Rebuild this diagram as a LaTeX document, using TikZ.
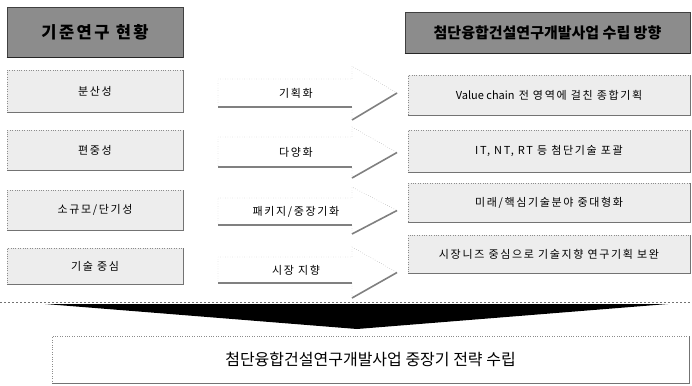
\documentclass[tikz,border=0pt]{standalone}
\usepackage{fontspec}
\newfontfamily\kr[LetterSpace=15]{Noto Sans CJK KR}
\newfontfamily\krh{Noto Sans CJK KR}
\begin{document}
\begin{tikzpicture}[x=1pt,y=-1pt,
  hdr/.style={draw=black!75, fill=black!45, line width=0.6pt, inner sep=0pt},
  sbox/.style={draw=black!45, dotted, fill=black!7, inner sep=0pt,
    font=\kr\fontsize{11}{13}\selectfont},
  shade/.style={draw=black!55, line width=1.1pt},
  arrowbody/.style={draw=black!45, dotted, fill=white},
  arrowshade/.style={draw=black!50, line width=1.6pt},
  alabel/.style={font=\kr\fontsize{11}{13}\selectfont, inner sep=0pt},
]
\useasboundingbox (0,0) rectangle (692,385);

% headers
\node[hdr, minimum width=176pt, minimum height=50pt,
  font=\kr\fontsize{16.5}{18}\selectfont\bfseries] (lh) at (95,32) {기준연구 현황};
\node[hdr, minimum width=285pt, minimum height=41pt,
  font=\krh\fontsize{15}{17}\selectfont\bfseries] (rh) at (547.5,32.5) {첨단융합건설연구개발사업 수립 방향};
\draw[black!85, line width=1.4pt] (lh.south west) -- (lh.south east);
\draw[black!85, line width=1.4pt] (rh.south west) -- (rh.south east);

% left boxes
\node[sbox, minimum width=176pt, minimum height=42pt] (l1) at (95,91) {분산성};
\node[sbox, minimum width=176pt, minimum height=40pt] (l2) at (95,150) {편중성};
\node[sbox, minimum width=176pt, minimum height=40pt] (l3) at (95,210) {소규모/단기성};
\node[sbox, minimum width=176pt, minimum height=36pt] (l4) at (95,266) {기술 중심};

% right boxes
\node[sbox, minimum width=282pt, minimum height=40pt] (r1) at (549,95) {{\krh Value chain} 전 영역에 걸친 종합기획};
\node[sbox, minimum width=282pt, minimum height=42pt] (r2) at (549,151) {IT, NT, RT 등 첨단기술 포괄};
\node[sbox, minimum width=282pt, minimum height=39pt] (r3) at (549,202.5) {미래/핵심기술분야 중대형화};
\node[sbox, minimum width=282pt, minimum height=38pt] (r4) at (549,254) {시장니즈 중심으로 기술지향 연구기획 보완};

\foreach \b in {l1,l2,l3,l4,r1,r2,r3,r4}{
  \draw[shade] (\b.south west) -- (\b.south east) -- (\b.north east);
}

% block arrows
\foreach \bt/\bb/\ht/\hb/\n in {79/107/66/120/a1, 137/167/127/178/a2, 198/225/187/234/a3, 257/283/247/298/a4}{
  \pgfmathsetmacro{\mid}{(\ht+\hb)/2}
  \draw[arrowbody] (218,\bt) -- (352,\bt) -- (352,\ht) -- (397,\mid) -- (352,\hb) -- (352,\bb) -- (218,\bb) -- cycle;
  \draw[arrowshade] (218,\bb) -- (352,\bb);
  \draw[arrowshade] (352,\hb) -- (397,\mid);
  \coordinate (\n) at (296,{(\bt+\bb)/2});
}
\node[alabel] (t1) at (a1) {기획화};
\node[alabel] (t2) at (a2) {다양화};
\node[alabel] (t3) at (a3) {패키지/중장기화};
\node[alabel] (t4) at (a4) {시장 지향};

% separator
\draw[black!55, dash pattern=on 1.5pt off 2.5pt] (0,302) -- (692,302);

% big arrow
\fill[black] (45,304) -- (668,304) -- (357,329) -- cycle;

% bottom box
\node[draw=black!45, dotted, fill=white, minimum width=637pt, minimum height=47pt,
  font=\krh\fontsize{16}{18}\selectfont] (bt) at (370.5,359.5) {첨단융합건설연구개발사업 중장기 전략 수립};
\draw[shade] (bt.south west) -- (bt.south east) -- (bt.north east);
\end{tikzpicture}
\end{document}
